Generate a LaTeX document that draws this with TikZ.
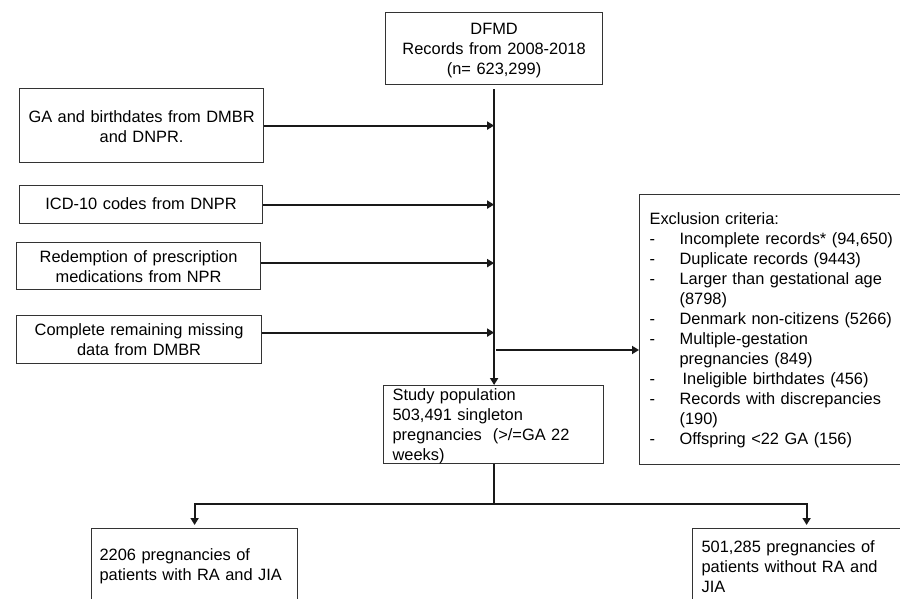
\documentclass[tikz,border=0pt]{standalone}
\usepackage{fontspec}
\setmainfont{Liberation Sans}
\usetikzlibrary{positioning,arrows.meta}

\newcommand{\dashitem}[1]{\makebox[30pt][l]{-}#1}
\newcommand{\dashcont}[1]{\hspace*{30pt}#1}

\begin{document}
\begin{tikzpicture}[x=1pt,y=-1pt,
		box/.style={draw=black!80, line width=1.2pt, inner ysep=0pt, inner xsep=0pt, anchor=north west, font=\fontsize{16.4}{20}\selectfont},
		cbox/.style={box, align=center},
		lbox/.style={box, align=left},
		flow/.style={-{Triangle[length=7pt,width=8pt]}, line width=2pt, black!90},
		]
		\useasboundingbox (0,0) rectangle (900,599);
		%Nodes
		\node[cbox, text width=217pt, text height=22pt, text depth=50pt] (dfmd) at (385,12)
			{DFMD\\Records from 2008-2018\\(n= 623,299)};
		\node[cbox, text width=244pt, text height=33.5pt, text depth=40.5pt] (ga) at (19,88)
			{GA and birthdates from DMBR\\and DNPR.};
		\node[cbox, text width=243pt, text height=24pt, text depth=14pt] (icd) at (19,185)
			{ICD-10 codes from DNPR};
		\node[cbox, text width=244pt, text height=19.5pt, text depth=27.5pt] (presc) at (16,242)
			{Redemption of prescription\\medications from NPR};
		\node[cbox, text width=245pt, text height=20pt, text depth=28pt] (remain) at (16,315)
			{Complete remaining missing\\data from DMBR};
		\node[lbox, inner xsep=9pt, text width=202pt, text height=15pt, text depth=63pt] (study) at (383,385)
			{Study population\\503,491 singleton\\pregnancies\ \ (>/=GA 22\\weeks)};
		\node[lbox, inner xsep=10pt, text width=270pt, text height=30pt, text depth=240pt] (excl) at (639,194)
			{Exclusion criteria:\\
			\dashitem{Incomplete records* (94,650)}\\
			\dashitem{Duplicate records (9443)}\\
			\dashitem{Larger than gestational age}\\
			\dashcont{(8798)}\\
			\dashitem{Denmark non-citizens (5266)}\\
			\dashitem{Multiple-gestation}\\
			\dashcont{pregnancies (849)}\\
			\dashitem{\hspace{3pt}Ineligible birthdates (456)}\\
			\dashitem{Records with discrepancies}\\
			\dashcont{(190)}\\
			\dashitem{Offspring <22 GA (156)}};
		\node[lbox, inner xsep=8pt, text width=190pt, text height=32pt, text depth=80pt] (racase) at (91,528)
			{2206 pregnancies of\\patients with RA and JIA};
		\node[lbox, inner xsep=9pt, text width=210pt, text height=24pt, text depth=90pt] (nocase) at (692,528)
			{501,285 pregnancies of\\patients without RA and\\JIA};
		\coordinate (split) at (496,350);
		\coordinate (forky) at (0,504);
		\coordinate (fork) at (study.south |- forky);

		%Lines
		\draw[flow, shorten <=4pt] (dfmd.south) -- (dfmd.south |- study.north);
		\draw[flow] (ga.east) -- (ga.east -| dfmd.south);
		\draw[flow] (icd.east) -- (icd.east -| dfmd.south);
		\draw[flow] ([yshift=3pt]presc.east) -- ([yshift=3pt]presc.east -| dfmd.south);
		\draw[flow] ([yshift=7pt]remain.east) -- ([yshift=7pt]remain.east -| dfmd.south);
		\draw[flow] (split) -- (split -| excl.west);
		\draw[line width=2pt, black!90] (study.south) -- (fork);
		\draw[flow, shorten >=3pt] (fork) -| (racase);
		\draw[flow, shorten >=3pt] (fork) -| (nocase);
\end{tikzpicture}
\end{document}
